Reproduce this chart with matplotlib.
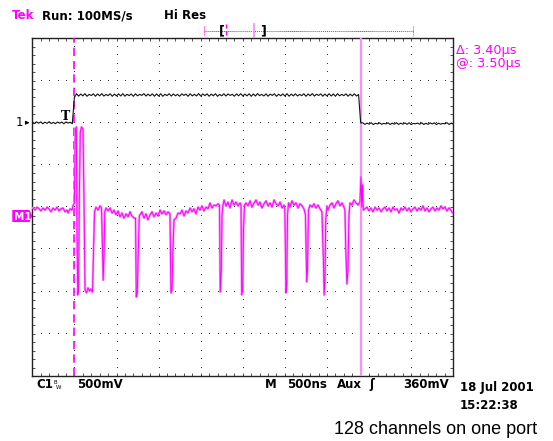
import numpy as np
import matplotlib
matplotlib.use('Agg')
import matplotlib.pyplot as plt
from matplotlib.lines import Line2D
from matplotlib.patches import Polygon

# channel 1, 500 mV/div, sampled every 25 ns (values in mV)
ch1_step_us = 0.025
ch1_mv = [8, -9, 11, -6, 10, -12, 7, -8, 12, -10, 5, -11, 9, -7, 8, -12, 10, -5, 6,
          -12, 300,
          343, 315, 340, 318, 344, 313, 336, 322, 342, 314, 341, 319, 345, 316, 335, 321, 343, 313, 339, 318,
          342, 317, 344, 314, 337, 321, 341, 313, 343, 319, 336, 323, 345, 316, 339, 318, 342, 314, 341, 317,
          343, 313, 337, 321, 344, 316, 341, 319, 336, 314, 342, 323, 339, 313, 343, 318, 337, 317, 345, 316,
          341, 321, 342, 314, 339, 319, 344, 313, 336, 318, 343, 316, 341, 323, 337, 314, 342, 319, 344, 317,
          339, 318, 343, 313, 341, 316, 345, 321, 336, 317, 342, 314, 339, 323, 343, 313, 337, 319, 341, 316,
          344, 314, 339, 318, 342, 317, 336, 321, 343, 313, 341, 319, 345, 316, 337, 323, 342, 314, 339, 318,
          343, 316, 341, 313, 344, 319, 336, 321, 342, 314, 339, 317, 343, 316, 335,
          -2,
          -1, -20, -4, -17, 0, -22, -6, -15, -2, -19, -7, -14, -1, -21, -5, -17, 0, -20, -6, -16,
          -3, -19, -1, -22, -8, -13, -4, -18, 0, -21, -6, -19, -2, -15, -1, -22, -5, -17, -8, -13,
          0, -20, -4, -16]
ch1_volts_per_div = 0.5
ch1_position_div = 2.0

# M1 trace: (time us, level in divisions)
m1_points = [
    (0.008, -0.02), (0.032, -0.07), (0.056, 0.00), (0.080, -0.04), (0.103, -0.09), (0.127, -0.02),
    (0.151, -0.07), (0.175, 0.00), (0.198, -0.04), (0.222, -0.11), (0.246, -0.02), (0.270, -0.07),
    (0.293, 0.00), (0.317, -0.09), (0.341, -0.04), (0.365, -0.02), (0.388, -0.11), (0.412, -0.07),
    (0.424, -0.14), (0.448, -0.04), (0.471, -0.07), (0.483, 0.03),
    (0.499, 0.10), (0.511, 1.83), (0.523, 1.90), (0.531, -0.54), (0.540, -2.08), (0.549, -1.96),
    (0.558, 0.17), (0.570, 1.78), (0.584, 1.90), (0.602, 1.85), (0.614, 0.17), (0.626, -1.96),
    (0.644, -2.03), (0.661, -1.91), (0.679, -1.99), (0.697, -1.94), (0.715, -2.01), (0.727, -1.01),
    (0.739, -0.11), (0.756, 0.00), (0.780, -0.07), (0.804, 0.03), (0.822, -0.02), (0.834, -1.01),
    (0.842, -1.73), (0.852, -1.13), (0.861, -0.11),
    (0.875, -0.02), (0.899, -0.09), (0.923, -0.02), (0.947, -0.14), (0.970, -0.07), (0.994, -0.18),
    (1.018, -0.09), (1.041, -0.23), (1.065, -0.14), (1.089, -0.26), (1.113, -0.16), (1.137, -0.23),
    (1.160, -0.11), (1.184, -0.21), (1.208, -0.26),
    (1.226, -0.26), (1.235, -2.13), (1.247, -2.03), (1.259, -1.01), (1.271, -0.21),
    (1.279, -0.18), (1.303, -0.11), (1.327, -0.26), (1.350, -0.16), (1.374, -0.30), (1.398, -0.18),
    (1.422, -0.11), (1.445, -0.23), (1.469, -0.14), (1.493, -0.21), (1.517, -0.07), (1.540, -0.16),
    (1.564, -0.09), (1.588, -0.18), (1.612, -0.11),
    (1.635, -0.16), (1.647, -2.03), (1.659, -1.96), (1.671, -0.97), (1.683, -0.30),
    (1.707, -0.26), (1.730, -0.14), (1.754, -0.16), (1.778, -0.07), (1.802, -0.21), (1.825, -0.09),
    (1.849, -0.14), (1.873, -0.02), (1.897, -0.11), (1.920, -0.04), (1.944, -0.16), (1.968, 0.00),
    (1.992, -0.07), (2.015, 0.03), (2.039, -0.09), (2.063, 0.00), (2.087, -0.04), (2.110, 0.10),
    (2.134, -0.02), (2.158, 0.05), (2.182, 0.03), (2.205, 0.08),
    (2.223, 0.05), (2.232, -2.01), (2.245, -1.49), (2.253, -0.18), (2.265, 0.05),
    (2.277, 0.17), (2.300, 0.03), (2.324, 0.12), (2.348, -0.02), (2.372, 0.17), (2.395, 0.05),
    (2.419, 0.12), (2.443, 0.03), (2.467, 0.10),
    (2.479, 0.05), (2.487, -2.08), (2.499, -1.96), (2.508, -0.54), (2.520, 0.05),
    (2.538, 0.10), (2.562, 0.03), (2.586, 0.15), (2.609, 0.00), (2.633, 0.10), (2.657, 0.17),
    (2.681, 0.05), (2.704, 0.12), (2.728, -0.02), (2.752, 0.08), (2.776, 0.15), (2.799, 0.03),
    (2.823, 0.10), (2.847, 0.00), (2.871, 0.17), (2.894, 0.08), (2.918, 0.03), (2.942, 0.12),
    (2.966, -0.02), (2.989, 0.05),
    (2.999, -0.07), (3.005, -0.82), (3.012, -2.03), (3.022, -1.85), (3.031, -0.18), (3.043, 0.10),
    (3.060, 0.00), (3.084, 0.15), (3.108, 0.05), (3.131, 0.10), (3.155, -0.02), (3.179, 0.08),
    (3.203, 0.03), (3.226, -0.04),
    (3.244, -0.18), (3.250, -0.78), (3.259, -1.77), (3.268, -1.49), (3.280, -0.07),
    (3.298, 0.05), (3.322, 0.00), (3.345, 0.08), (3.369, -0.02), (3.393, 0.05), (3.417, -0.04),
    (3.440, -0.11),
    (3.450, -0.82), (3.458, -1.25), (3.466, -2.08), (3.476, -1.73), (3.485, -0.30), (3.499, 0.03),
    (3.511, -0.07), (3.535, 0.05), (3.559, 0.10), (3.583, -0.02), (3.606, 0.08), (3.630, 0.15),
    (3.654, 0.03), (3.678, 0.10), (3.701, 0.00),
    (3.713, -0.07), (3.723, -1.01), (3.737, -1.82), (3.749, -1.49), (3.761, -0.18), (3.773, 0.10),
    (3.796, 0.05), (3.820, 0.17), (3.844, 0.10), (3.868, 0.05), (3.891, 0.12),
    (3.903, 0.72), (3.913, 0.00), (3.921, 0.53), (3.931, -0.07),
    (3.951, -0.04), (3.975, 0.00), (3.999, -0.09), (4.022, -0.02), (4.046, -0.11), (4.070, 0.00),
    (4.094, -0.07), (4.117, -0.02), (4.141, -0.11), (4.165, -0.04), (4.189, 0.00), (4.212, -0.09),
    (4.236, -0.02), (4.260, -0.11), (4.284, 0.00), (4.307, -0.07), (4.331, -0.04), (4.355, -0.14),
    (4.379, -0.02), (4.402, -0.07), (4.426, 0.00), (4.450, -0.09), (4.474, -0.02), (4.497, -0.11),
    (4.521, -0.04), (4.545, 0.00), (4.569, -0.09), (4.592, -0.02), (4.616, -0.07), (4.640, 0.03),
    (4.664, -0.09), (4.687, -0.02), (4.711, -0.11), (4.735, -0.04), (4.759, 0.00), (4.782, -0.09),
    (4.806, -0.02), (4.830, -0.07), (4.854, 0.03), (4.877, -0.04), (4.901, 0.00), (4.925, -0.09),
    (4.949, -0.02), (4.972, -0.07), (4.990, -0.14),
]

cursor_a_us = 0.5
cursor_b_us = 3.9
trigger_us = 0.4

W, H = 553, 441
MAG = '#ff00ff'


def fx(px):
    return px / W


def fy(py):
    return 1 - py / H


fig = plt.figure(figsize=(W / 100, H / 100), dpi=100)
ax = fig.add_axes([fx(32.3), fy(376), 421 / W, 337.7 / H])
ax.set_xlim(0, 5)
ax.set_ylim(-4, 4)

# graticule: dotted lines, a dot every 0.2 div
ydots = np.arange(-4, 4.001, 0.2)
xdots = np.arange(0, 5.001, 0.1)
for k in range(1, 10):
    ax.plot([k * 0.5] * len(ydots), ydots, ',', color='#333333')
for k in range(-3, 4):
    ax.plot(xdots, [k] * len(xdots), ',', color='#333333')

ax.set_xticks(np.arange(0, 5.001, 0.5))
ax.set_xticks(xdots, minor=True)
ax.set_yticks(np.arange(-4, 4.001, 1))
ax.set_yticks(ydots, minor=True)
ax.tick_params(which='both', direction='in', top=True, right=True,
               labelbottom=False, labelleft=False, length=2.5, width=0.6, color='#333333')
for s in ax.spines.values():
    s.set_color('#222222')
    s.set_linewidth(1.0)

# cursors
ax.axvline(cursor_a_us, color=MAG, lw=1.2, ls=(0, (5, 3)), zorder=3)
ax.axvline(cursor_b_us, color='#ff8cff', lw=1.6, zorder=3)

# traces
t1 = np.arange(len(ch1_mv)) * ch1_step_us
y1 = np.array(ch1_mv) / 1000 / ch1_volts_per_div + ch1_position_div
ax.plot(t1, y1, color='#111111', lw=0.8, zorder=4)

m1_t, m1_v = zip(*m1_points)
ax.plot(m1_t, m1_v, color='#ff8cff', lw=1.6, zorder=4)
ax.plot(m1_t, m1_v, color=MAG, lw=0.7, zorder=5)

ax.text(trigger_us, ch1_position_div, 'T', family='DejaVu Serif', fontsize=9,
        fontweight='bold', ha='center', va='bottom', zorder=6)

# header
hdr = dict(family='DejaVu Sans', fontweight='bold', fontsize=8.5, va='baseline')
fig.text(fx(12.3), fy(19.4), 'Tek', color=MAG, **hdr)
fig.text(fx(42), fy(19.4), 'Run: 100MS/s', color='black', **hdr)
fig.text(fx(164), fy(19.4), 'Hi Res', color='black', **hdr)

# record view bar
bar_y = fy(31)
fig.add_artist(Line2D([fx(204), fx(413)], [bar_y, bar_y], color=MAG, lw=0.7, ls=(0, (1, 1))))
for xp in (204, 413):
    fig.add_artist(Line2D([fx(xp), fx(xp)], [fy(26), fy(36)], color=MAG, lw=0.7, ls=(0, (1, 1))))
fig.add_artist(Line2D([fx(225.5), fx(225.5)], [fy(24), fy(37)], color=MAG, lw=1.0, ls=(0, (3, 2))))
fig.add_artist(Line2D([fx(254), fx(254)], [fy(24), fy(37)], color='#ff8cff', lw=1.3))
fig.text(fx(222), fy(31), '[', fontsize=9, fontweight='bold', ha='center', va='center')
fig.text(fx(263), fy(31), ']', fontsize=9, fontweight='bold', ha='center', va='center')

# cursor readout
rd = dict(family='DejaVu Sans', fontsize=9.2, color=MAG, va='baseline')
fig.text(fx(456.5), fy(53.8), '\u0394: 3.40\u00b5s', **rd)
fig.text(fx(456.5), fy(67.2), '@: 3.50\u00b5s', **rd)

# ground markers
fig.text(fx(16), fy(123), '1', fontsize=8.5, ha='left', va='center')
ax.annotate('', xy=(0, ch1_position_div), xycoords=('axes fraction', 'data'),
            xytext=(-7, 0), textcoords='offset points',
            arrowprops=dict(arrowstyle='-|>', lw=0.8, color='black', mutation_scale=5))
fig.add_artist(Polygon([[fx(12.3), fy(210)], [fx(29.5), fy(210)], [fx(32.3), fy(216)],
                        [fx(29.5), fy(222)], [fx(12.3), fy(222)]], closed=True,
                       facecolor=MAG, edgecolor='none', transform=fig.transFigure))
fig.text(fx(14), fy(216.5), 'M1', color='white', fontsize=7.5, fontweight='bold',
         family='DejaVu Sans', ha='left', va='center')

# bottom readout
fig.text(fx(36), fy(388), 'C1', color='black', **hdr)
fig.text(fx(54), fy(384), 'B', color='black', family='DejaVu Sans', fontsize=4, va='baseline')
fig.text(fx(55.5), fy(389), 'W', color='black', family='DejaVu Sans', fontsize=4, va='baseline')
fig.text(fx(77.5), fy(388), '500mV', color='black', **hdr)
fig.text(fx(265), fy(388), 'M', color='black', **hdr)
fig.text(fx(287), fy(388), '500ns', color='black', **hdr)
fig.text(fx(337), fy(388), 'Aux', color='black', **hdr)
fig.text(fx(369), fy(388), '\u0283', color='black', **hdr)
fig.text(fx(403), fy(388), '360mV', color='black', **hdr)
fig.text(fx(459.5), fy(391), '18 Jul 2001', color='black', **hdr)
fig.text(fx(459.5), fy(408.6), '15:22:38', color='black', **hdr)

fig.text(fx(334.5), fy(434), '128 channels on one port', family='Liberation Sans',
         fontsize=13, color='black', va='baseline')

fig.savefig('out.png', dpi=100, facecolor='white')
